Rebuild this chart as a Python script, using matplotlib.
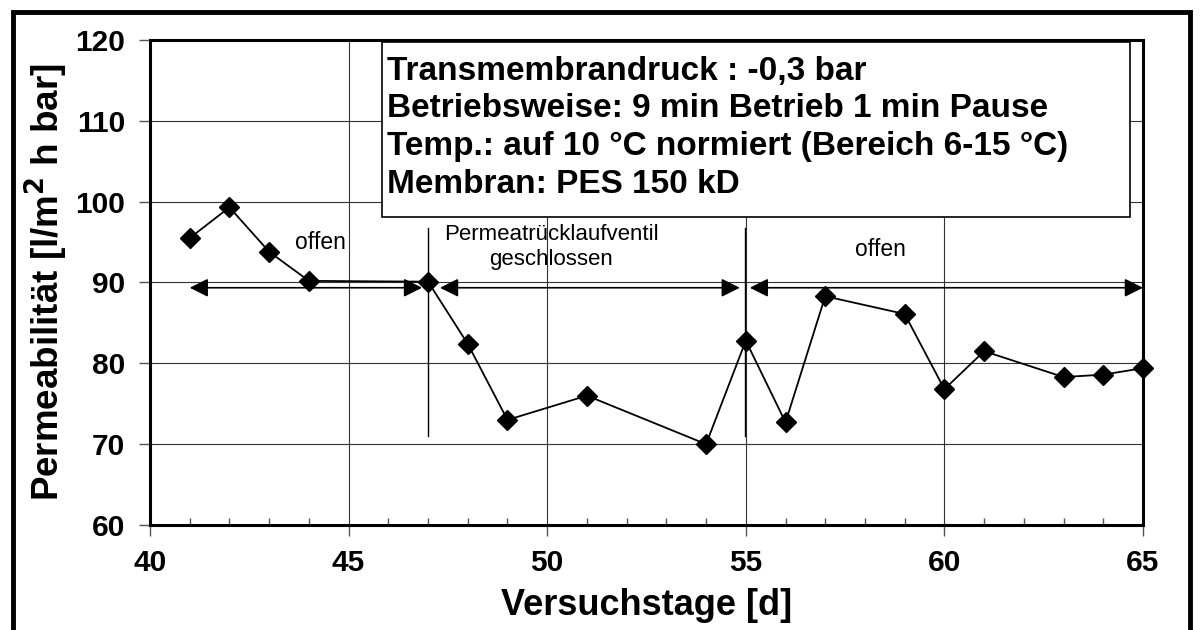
import matplotlib.pyplot as plt
from matplotlib.ticker import MultipleLocator
from matplotlib.patches import Rectangle

plt.rcParams['font.family'] = ['Liberation Sans', 'DejaVu Sans']

# ─── Data ────────────────────────────────────────────────────────────
days = [41, 42, 43, 44, 47, 48, 49, 51, 54, 55, 56, 57, 59, 60, 61, 63, 64, 65]
permeability = [95.5, 99.3, 93.8, 90.2, 90.1, 82.4, 73.0, 76.0, 70.0, 82.8,
                72.7, 88.3, 86.1, 76.8, 81.5, 78.3, 78.6, 79.4]

# phase arrows (start, end) at arrow level
phases = [(41.0, 46.85), (47.3, 54.85), (55.1, 65.0)]
arrow_level = 89.35
# vertical markers where the valve was switched
switch_days = [47, 54.97]
switch_range = (71.0, 96.8)

info_lines = ["Transmembrandruck : -0,3 bar",
              "Betriebsweise: 9 min Betrieb 1 min Pause",
              "Temp.: auf 10 °C normiert (Bereich 6-15 °C)",
              "Membran: PES 150 kD"]

# ─── Figure ──────────────────────────────────────────────────────────
fig = plt.figure(figsize=(12.01, 6.30), dpi=100)
ax = fig.add_axes([0.1249, 0.1667, 0.8268, 0.7698])

# outer frame
fig.patches.append(Rectangle((0.011, -0.05), 0.98, 1.031, transform=fig.transFigure,
                             fill=False, edgecolor='black', linewidth=3.5))

ax.set_xlim(40, 65)
ax.set_ylim(60, 120)
ax.xaxis.set_major_locator(MultipleLocator(5))
ax.xaxis.set_minor_locator(MultipleLocator(1))
ax.yaxis.set_major_locator(MultipleLocator(10))
ax.grid(True, which='major', color='#333333', linewidth=0.8)
ax.set_axisbelow(True)

for s in ax.spines.values():
    s.set_linewidth(2.2)

ax.tick_params(axis='both', which='major', direction='out', length=8, width=1,
               labelsize=21.5, color='#555555')
ax.tick_params(axis='x', which='minor', direction='in', length=5, width=1,
               color='#555555')
ax.tick_params(axis='x', which='major', pad=9)
ax.tick_params(axis='y', which='major', pad=10)
for lab in ax.get_xticklabels() + ax.get_yticklabels():
    lab.set_fontweight('bold')

ax.plot(days, permeability, color='black', linewidth=1.3, marker='D',
        markersize=10.5, markerfacecolor='black', zorder=5, clip_on=False)

for start, end in phases:
    ax.annotate('', xy=(end, arrow_level), xytext=(start, arrow_level),
                arrowprops=dict(arrowstyle='<|-|>', color='black', lw=1.2,
                                mutation_scale=28, shrinkA=0, shrinkB=0))

for d in switch_days:
    ax.plot([d, d], switch_range, color='black', linewidth=1.0)

ax.text(44.3, 95.0, 'offen', fontsize=16.5, ha='center', va='center')
ax.text(50.1, 94.4, 'Permeatrücklaufventil\ngeschlossen', fontsize=16,
        ha='center', va='center', linespacing=1.25)
ax.text(58.4, 94.1, 'offen', fontsize=16.5, ha='center', va='center')

# info box
ax.add_patch(Rectangle((0.2336, 0.635), 0.7533, 0.361, transform=ax.transAxes,
                       facecolor='white', edgecolor='black', linewidth=1.2,
                       zorder=6))
for i, line in enumerate(info_lines):
    ax.text(0.2386, 0.918 - i * 0.0775, line, transform=ax.transAxes,
            fontsize=24, fontweight='bold', ha='left', va='baseline', zorder=7)

ax.set_xlabel('Versuchstage [d]', fontsize=26, fontweight='bold', labelpad=8)
ax.set_ylabel('Permeabilität [l/m$^\\mathbf{2}$ h bar]', fontsize=26.5,
              fontweight='bold', labelpad=4)

plt.savefig('out.png', dpi=100)
